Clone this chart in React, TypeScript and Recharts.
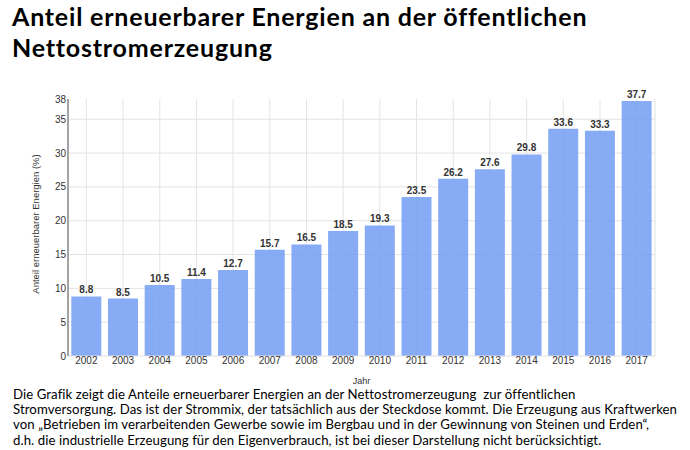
import React from 'react';
import { BarChart, Bar, XAxis, YAxis, CartesianGrid, LabelList } from 'recharts';

const years = ['2002','2003','2004','2005','2006','2007','2008','2009','2010','2011','2012','2013','2014','2015','2016','2017'];
const shares = [8.8, 8.5, 10.5, 11.4, 12.7, 15.7, 16.5, 18.5, 19.3, 23.5, 26.2, 27.6, 29.8, 33.6, 33.3, 37.7];
const yTicks = [0, 5, 10, 15, 20, 25, 30, 35, 38];
const gridValues = [5, 10, 15, 20, 25, 30, 35];

const titleLines = ['Anteil erneuerbarer Energien an der öffentlichen', 'Nettostromerzeugung'];
const textLines = [
  'Die Grafik zeigt die Anteile erneuerbarer Energien an der Nettostromerzeugung  zur öffentlichen',
  'Stromversorgung. Das ist der Strommix, der tatsächlich aus der Steckdose kommt. Die Erzeugung aus Kraftwerken',
  'von \u201EBetrieben im verarbeitenden Gewerbe sowie im Bergbau und in der Gewinnung von Steinen und Erden\u201C,',
  'd.h. die industrielle Erzeugung für den Eigenverbrauch, ist bei dieser Darstellung nicht berücksichtigt.',
];
const yLabel = 'Anteil erneuerbarer Energien (%)';
const xLabel = 'Jahr';

const data = years.map((y, i) => ({ year: y, value: shares[i] }));

const chartFont = '"Liberation Sans", Arial, sans-serif';
const textFont = 'Lato, "Open Sans", sans-serif';

const YLabel = () => (
  <text x={35} y={224} transform="rotate(-90 35 224)" textAnchor="middle" dominantBaseline="central"
    style={{ fontSize: 9.5, fill: '#333', fontFamily: chartFont }}>{yLabel}</text>
);

export default function App() {
  return (
    <div style={{ position: 'absolute', left: 0, top: 0, width: 690, height: 450, background: '#fff', overflow: 'hidden' }}>
      {titleLines.map((t, i) => (
        <div key={i} style={{ position: 'absolute', left: 12, top: 1 + i * 31, height: 31, fontFamily: textFont, fontWeight: 700, fontSize: 25, letterSpacing: 0.8, lineHeight: '31px', color: '#000', whiteSpace: 'nowrap' }}>{t}</div>
      ))}
      <div style={{ position: 'absolute', left: 0, top: 0 }}>
        <BarChart width={690} height={390} data={data} margin={{ top: 99, right: 35, left: 8, bottom: 0 }} barCategoryGap="9%">
          <CartesianGrid stroke="#e4e4e4" horizontalValues={gridValues} />
          <XAxis dataKey="year" height={34} tickLine={false} tickSize={0} axisLine={{ stroke: '#e0e0e0' }} tick={{ fontSize: 10, fill: '#333', fontFamily: chartFont }} tickMargin={1} interval={0}
            label={{ value: xLabel, position: 'insideBottom', offset: 6, style: { fontSize: 9, fill: '#333', fontFamily: chartFont } }} />
          <YAxis width={60} domain={[0, 38]} ticks={yTicks} tickLine={false} tickSize={0} axisLine={{ stroke: '#8a8a8a', strokeWidth: 1.5 }} tick={{ fontSize: 10, fill: '#333', fontFamily: chartFont }} tickMargin={2} interval={0}
            label={<YLabel />} />
          <Bar dataKey="value" fill="rgb(115,156,244)" fillOpacity={0.85} isAnimationActive={false}>
            <LabelList dataKey="value" position="top" offset={3} style={{ fontSize: 10, fontWeight: 700, fill: '#333', fontFamily: chartFont }} />
          </Bar>
        </BarChart>
      </div>
      {textLines.map((t, i) => (
        <div key={i} style={{ position: 'absolute', left: 13, top: 387 + i * 15.2, height: 15, fontFamily: textFont, fontSize: 13.2, letterSpacing: 0.08, lineHeight: '15px', color: '#000', whiteSpace: 'pre' }}>{t}</div>
      ))}
    </div>
  );
}
